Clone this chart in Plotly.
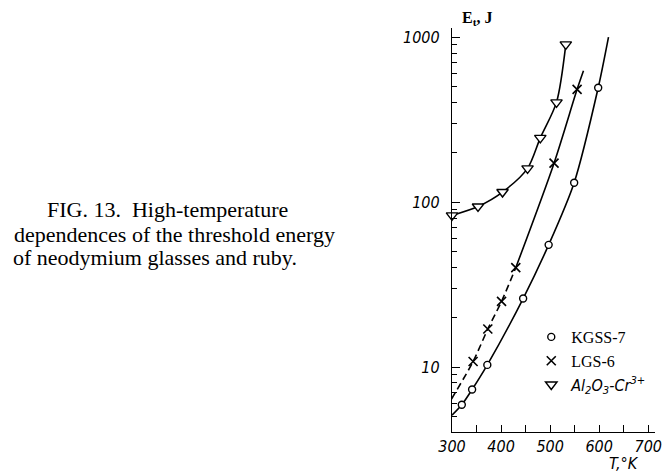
import plotly.graph_objects as go

# ---- data ----
kgss_T = [320, 341, 372, 445, 497, 549, 598]
kgss_E = [5.9, 7.3, 10.3, 26, 55, 131, 493]
kgss_line_T = [300, 320, 341, 372, 445, 497, 549, 598, 619]
kgss_line_E = [5.1, 5.9, 7.3, 10.3, 26, 55, 131, 493, 1000]

lgs_T = [299, 343, 373, 401, 430, 508, 555]
lgs_E = [6.4, 10.8, 17, 25, 40, 172, 482]
lgs_dash_T = [299, 343, 373, 401, 430]
lgs_dash_E = [6.4, 10.8, 17, 25, 40]
lgs_solid_T = [430, 508, 555, 568]
lgs_solid_E = [40, 172, 482, 625]

al_T = [300, 353, 403, 454, 480, 513, 532]
al_E = [83, 94, 115, 160, 245, 402, 903]

x_ticks = [300, 400, 500, 600, 700]
x_minor = [350, 450, 550, 650]
y_ticks = [10, 100, 1000]
y_minor = [m * d for d in (1, 10, 100) for m in range(2, 10) if 4.2 <= m * d <= 1100 and m * d not in (10, 100, 1000)]

W, H = 665, 475
L, R, T, B = 452, 3, 28, 43
pw, ph = W - L - R, H - T - B


def px(x):
    return (x - L) / pw


def py(y):
    return (H - B - y) / ph


serif = "Liberation Serif, Times New Roman, serif"
narrow = "Liberation Sans Narrow, DejaVu Sans Condensed, Arial Narrow, sans-serif"
lc = "black"

fig = go.Figure()

line_style = dict(color=lc, width=1.6, shape="spline", smoothing=0.8)
fig.add_trace(go.Scatter(x=kgss_line_T, y=kgss_line_E, mode="lines", line=line_style,
                         showlegend=False, hoverinfo="skip", cliponaxis=False))
fig.add_trace(go.Scatter(x=lgs_dash_T, y=lgs_dash_E, mode="lines",
                         line=dict(color=lc, width=1.6, shape="spline", smoothing=0.8, dash="7px,4px"),
                         showlegend=False, hoverinfo="skip", cliponaxis=False))
fig.add_trace(go.Scatter(x=lgs_solid_T, y=lgs_solid_E, mode="lines", line=line_style,
                         showlegend=False, hoverinfo="skip", cliponaxis=False))
fig.add_trace(go.Scatter(x=al_T, y=al_E, mode="lines", line=line_style,
                         showlegend=False, hoverinfo="skip", cliponaxis=False))

fig.add_trace(go.Scatter(x=kgss_T, y=kgss_E, mode="markers", name="KGSS-7",
                         marker=dict(symbol="circle", size=7, color="white",
                                     line=dict(color=lc, width=1.4)), cliponaxis=False))
fig.add_trace(go.Scatter(x=lgs_T, y=lgs_E, mode="markers", name="LGS-6",
                         marker=dict(symbol="x-thin", size=9, color=lc,
                                     line=dict(color=lc, width=1.6)), cliponaxis=False))
fig.add_trace(go.Scatter(x=al_T, y=al_E, mode="markers",
                         name="<span style=\"font-family:DejaVu Sans Condensed\"><i>Al<sub>2</sub>O<sub>3</sub>-Cr<sup>3+</sup></i></span>",
                         marker=dict(symbol="triangle-down", size=10, color="white",
                                     line=dict(color=lc, width=1.4)), cliponaxis=False))

fig.update_layout(
    width=W, height=H,
    margin=dict(l=L, r=R, t=T, b=B, pad=0),
    paper_bgcolor="white", plot_bgcolor="white",
    showlegend=True,
    legend=dict(x=px(534), y=py(320), xanchor="left", yanchor="top",
                font=dict(family=serif, size=16, color=lc),
                bgcolor="rgba(0,0,0,0)", itemwidth=30, tracegroupgap=0),
    xaxis=dict(range=[300, 300 + pw / 0.5075], showgrid=False, zeroline=False,
               showline=True, linecolor=lc, linewidth=1.4,
               ticks="inside", ticklen=7, tickwidth=1.3, tickcolor=lc,
               tickvals=x_ticks, ticktext=[f"<i>{v}</i>" for v in x_ticks],
               tickfont=dict(family=narrow, size=16, color=lc), ticklabeloverflow="allow",
               minor=dict(tickvals=x_minor, ticks="inside", ticklen=7, tickwidth=1.3, tickcolor=lc)),
    yaxis=dict(type="log", range=[0.606, 3.055], showgrid=False, zeroline=False,
               showline=True, linecolor=lc, linewidth=1.4,
               ticks="inside", ticklen=8, tickwidth=1.3, tickcolor=lc,
               tickvals=y_ticks, ticktext=[f"<i>{v}</i>" for v in y_ticks],
               tickfont=dict(family=narrow, size=16, color=lc), ticklabelstandoff=8,
               minor=dict(tickvals=y_minor, ticks="inside", ticklen=5, tickwidth=1.2, tickcolor=lc)),
)

annos = [
    dict(text="<b>E<sub>t</sub>, J</b>", x=px(478), y=py(19), xanchor="center", yanchor="middle",
         font=dict(family=serif, size=16, color=lc)),
    dict(text="<i>T,°K</i>", x=px(630), y=py(463), xanchor="center", yanchor="middle",
         font=dict(family=narrow, size=16, color=lc)),
    dict(text="FIG. 13.  High-temperature", x=px(157.5), y=py(210), xanchor="center", yanchor="middle",
         font=dict(family=serif, size=22, color=lc)),
    dict(text="dependences of the threshold energy", x=px(165), y=py(234), xanchor="center", yanchor="middle",
         font=dict(family=serif, size=22, color=lc)),
    dict(text="of neodymium glasses and ruby.", x=px(145), y=py(257), xanchor="center", yanchor="middle",
         font=dict(family=serif, size=22, color=lc)),
]
for a in annos:
    fig.add_annotation(xref="paper", yref="paper", showarrow=False, **a)

fig.write_html("out.html", config={"displayModeBar": False},
               post_script="document.body.style.margin='0';document.body.style.overflow='hidden';")
